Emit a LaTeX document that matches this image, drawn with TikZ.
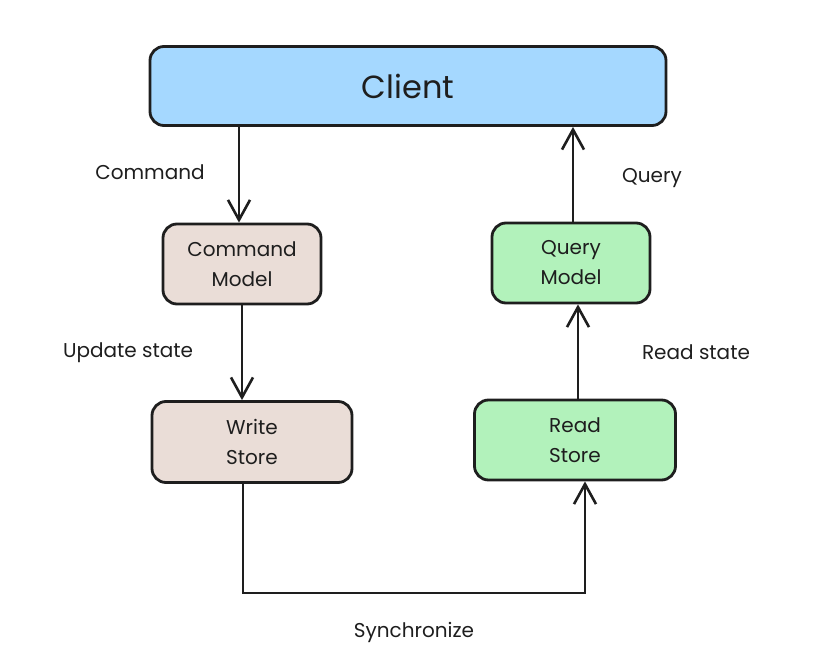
\documentclass[tikz,border=0pt]{standalone}
\usepackage{fontspec}
\setmainfont{Poppins}
\usetikzlibrary{arrows.meta}

\definecolor{clientblue}{HTML}{A5D8FF}
\definecolor{writebeige}{HTML}{EADDD7}
\definecolor{readgreen}{HTML}{B2F2BB}
\definecolor{ink}{HTML}{1E1E1E}

\tikzset{
	box/.style={draw=ink, line width=2.8pt, rounded corners=14pt, align=center,
		font=\fontsize{20}{30}\selectfont, text=ink},
	flow/.style={draw=ink, line width=2.8pt,
		-{Straight Barb[length=20pt,width=22pt,line width=2.6pt]}},
	lbl/.style={font=\fontsize{20}{24}\selectfont, text=ink}
}

\begin{document}
\begin{tikzpicture}[x=1pt,y=-1pt]
			\useasboundingbox (0,0) rectangle (828,672);
			\node[box, fill=clientblue, minimum width=516pt, minimum height=79pt,
				font=\fontsize{32}{36}\selectfont] (client) at (408,86) {Client};
			\node[box, fill=writebeige, minimum width=158pt, minimum height=80pt] (cmdmodel) at (242,264) {Command\\Model};
			\node[box, fill=readgreen, minimum width=158pt, minimum height=80pt] (qrymodel) at (571,263) {Query\\Model};
			\node[box, fill=writebeige, minimum width=200pt, minimum height=81pt] (wstore) at (252,442) {Write\\Store};
			\node[box, fill=readgreen, minimum width=201pt, minimum height=80pt] (rstore) at (575,440) {Read\\Store};

			\draw[flow] (client.south -| cmdmodel.south) ++(-3,0) coordinate (c1) -- (c1 |- cmdmodel.north);
			\draw[flow] (qrymodel.north) ++(2,0) coordinate (q1) -- (q1 |- client.south);
			\draw[flow] (cmdmodel) -- (wstore.north -| cmdmodel.south);
			\draw[flow] (rstore.north) ++(3,0) coordinate (r1) -- (r1 |- qrymodel.south);
			\draw[flow, rounded corners=0pt] ([xshift=-9pt]wstore.south) -- ++(0,109) -| ([xshift=10pt]rstore.south);

			\node[lbl] (lcmd) at (150,172) {Command};
			\node[lbl] (lqry) at (652,178) {Query};
			\node[lbl] (lupd) at (128,353) {Update state};
			\node[lbl] (lread) at (696,352) {Read state};
			\node[lbl] (lsync) at (414,632) {Synchronize};
			\end{tikzpicture}
\end{document}
